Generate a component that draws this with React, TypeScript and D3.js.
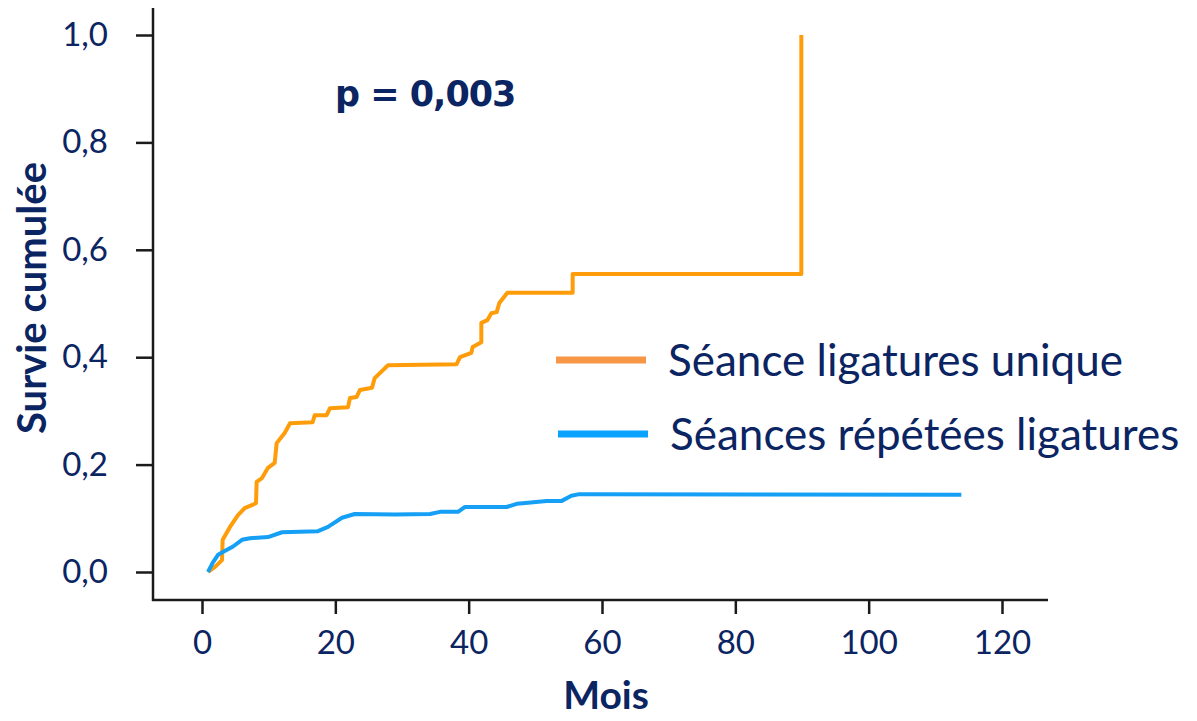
import * as d3 from "d3";
import { useEffect, useRef } from "react";

// Kaplan-Meier style curves: [months, cumulative value]
const singleSession: [number, number][] = [
  [0.9, 0], [2.0, 0.01], [3.0, 0.022], [3.1, 0.06], [4.2, 0.084], [5.4, 0.106], [6.4, 0.119],
  [8.1, 0.128], [8.2, 0.168], [9.0, 0.175], [9.9, 0.194], [10.9, 0.203],
  [11.2, 0.24], [12.4, 0.259], [13.2, 0.277], [16.6, 0.279], [16.9, 0.292],
  [18.7, 0.292], [19.2, 0.305], [21.9, 0.307], [22.2, 0.324], [23.2, 0.326],
  [23.7, 0.339], [25.5, 0.343], [25.9, 0.361], [27.9, 0.385], [38.2, 0.387],
  [38.7, 0.4], [40.4, 0.408], [40.6, 0.419], [41.9, 0.428], [41.9, 0.464],
  [42.8, 0.469], [43.4, 0.482], [44.2, 0.484], [44.6, 0.501], [45.8, 0.52],
  [55.6, 0.52], [55.6, 0.555], [89.9, 0.555], [89.9, 1.0],
];

const repeatedSessions: [number, number][] = [
  [0.9, 0], [1.6, 0.017], [2.4, 0.032], [3.4, 0.039], [4.6, 0.047], [6.0, 0.06],
  [7.2, 0.063], [9.9, 0.065], [12.0, 0.074], [17.4, 0.076], [18.9, 0.084],
  [21.0, 0.101], [22.9, 0.108], [28.9, 0.107], [34.2, 0.108], [35.7, 0.112],
  [38.4, 0.112], [39.4, 0.121], [45.7, 0.121], [47.2, 0.127], [48.1, 0.128],
  [51.7, 0.132], [53.9, 0.132], [55.4, 0.142], [56.6, 0.145], [113.9, 0.144],
];

const xTicks = [0, 20, 40, 60, 80, 100, 120];
const yTicks = [0, 0.2, 0.4, 0.6, 0.8, 1.0];
const seriesNames = ["Séance ligatures unique", "Séances répétées ligatures"];
const curveColors = ["#ff9c0a", "#159ff5"];
const legendColors = ["#f79646", "#0aa2ff"];

const TEXT = "#0b2462";
const FONT = "Lato, 'Open Sans', sans-serif";

export default function App() {
  const svgRef = useRef<SVGSVGElement>(null);

  useEffect(() => {
    if (!svgRef.current) return;
    const svg = d3.select(svgRef.current);
    svg.selectAll("*").remove();

    const axisX = 153;
    const axisY = 600;

    const x = d3.scaleLinear().domain([0, 120]).range([202, 1002]);
    const y = d3.scaleLinear().domain([0, 1]).range([572, 35]);

    // axis lines
    svg
      .append("line")
      .attr("x1", axisX)
      .attr("x2", axisX)
      .attr("y1", 8)
      .attr("y2", axisY + 1)
      .attr("stroke", "#1a1a1a")
      .attr("stroke-width", 2.5);
    svg
      .append("line")
      .attr("x1", axisX - 1)
      .attr("x2", 1048)
      .attr("y1", axisY)
      .attr("y2", axisY)
      .attr("stroke", "#1a1a1a")
      .attr("stroke-width", 2.5);

    // y axis
    const gy = svg
      .append("g")
      .attr("transform", `translate(${axisX},0)`)
      .call(
        d3
          .axisLeft(y)
          .tickValues(yTicks)
          .tickSize(17)
          .tickSizeOuter(0)
          .tickPadding(28)
          .tickFormat((d) => d3.format(".1f")(d as number).replace(".", ","))
      );

    // x axis
    const gx = svg
      .append("g")
      .attr("transform", `translate(0,${axisY})`)
      .call(
        d3
          .axisBottom(x)
          .tickValues(xTicks)
          .tickSize(14)
          .tickSizeOuter(0)
          .tickPadding(17)
          .tickFormat((d) => String(d))
      );

    [gx, gy].forEach((g) => {
      g.select(".domain").remove();
      g.selectAll(".tick line").attr("stroke", "#1a1a1a").attr("stroke-width", 2.5);
      g.selectAll(".tick text")
        .attr("fill", TEXT)
        .attr("font-family", FONT)
        .attr("font-size", "33px");
    });

    // axis titles
    svg
      .append("text")
      .attr("transform", "translate(46,298) rotate(-90)")
      .attr("text-anchor", "middle")
      .attr("fill", TEXT)
      .attr("font-family", FONT)
      .attr("font-weight", "bold")
      .attr("font-size", "40px")
      .text("Survie cumulée");

    svg
      .append("text")
      .attr("x", 606)
      .attr("y", 709)
      .attr("text-anchor", "middle")
      .attr("fill", TEXT)
      .attr("font-family", FONT)
      .attr("font-weight", "bold")
      .attr("font-size", "39px")
      .text("Mois");

    // curves
    const line = d3
      .line<[number, number]>()
      .x((d) => x(d[0]))
      .y((d) => y(d[1]));

    [singleSession, repeatedSessions].forEach((data, i) => {
      svg
        .append("path")
        .datum(data)
        .attr("d", line)
        .attr("fill", "none")
        .attr("stroke", curveColors[i])
        .attr("stroke-width", 4)
        .attr("stroke-linejoin", "round");
    });

    // legend
    const legend = svg.append("g").attr("transform", "translate(556,360)");
    seriesNames.forEach((name, i) => {
      const row = legend.append("g").attr("transform", `translate(${i * 2},${i * 74})`);
      row
        .append("line")
        .attr("x1", 0)
        .attr("x2", 90)
        .attr("y1", 0)
        .attr("y2", 0)
        .attr("stroke", legendColors[i])
        .attr("stroke-width", 7);
      row
        .append("text")
        .attr("x", 112)
        .attr("y", 16)
        .attr("fill", TEXT)
        .attr("font-family", FONT)
        .attr("font-size", "44px")
        .text(name);
    });

    // p value
    svg
      .append("text")
      .attr("x", 335)
      .attr("y", 106)
      .attr("fill", TEXT)
      .attr("font-family", "'DejaVu Sans', Verdana, sans-serif")
      .attr("font-weight", "bold")
      .attr("font-size", "35px")
      .attr("letter-spacing", "-1px")
      .text("p = 0,003");
  }, []);

  return (
    <svg
      ref={svgRef}
      width={1197}
      height={721}
      style={{ position: "fixed", left: 0, top: 0, background: "#fff" }}
    />
  );
}
